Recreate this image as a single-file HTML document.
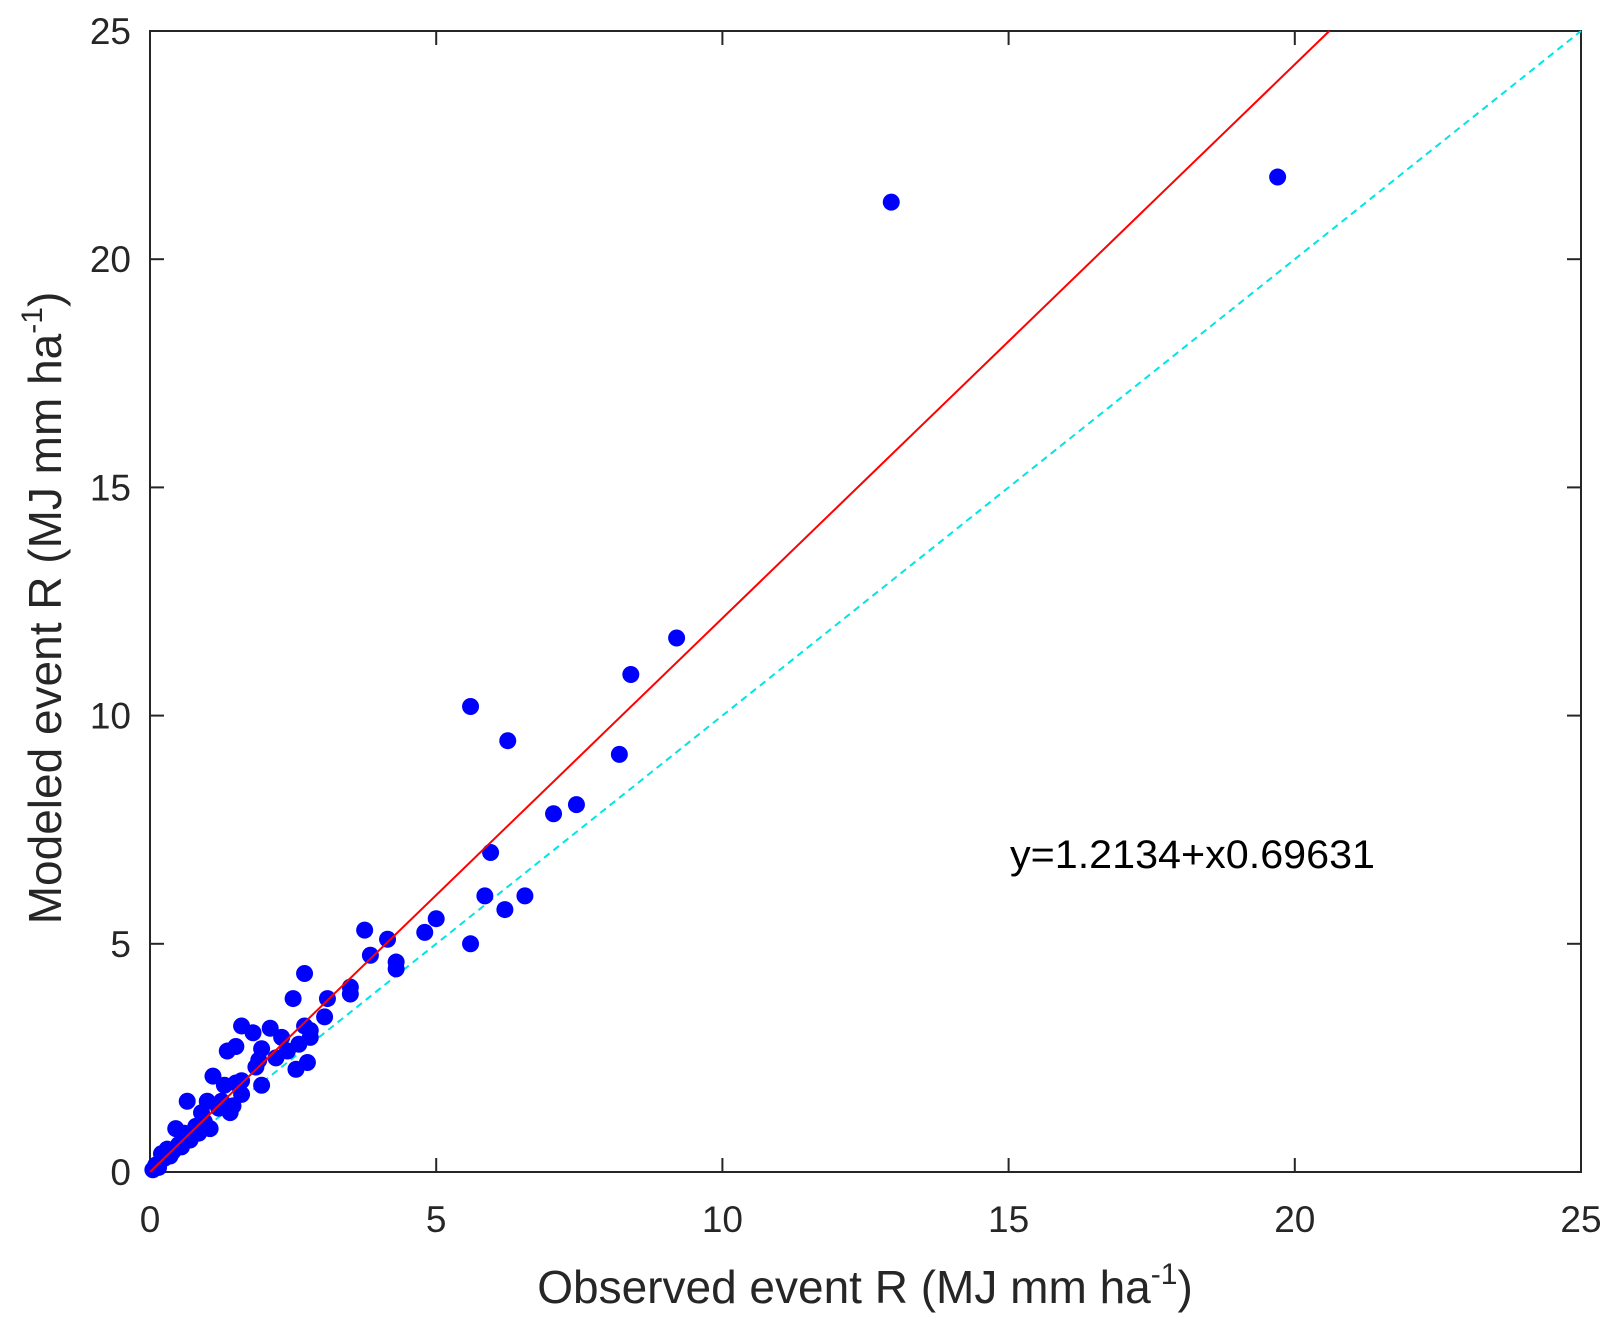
<!DOCTYPE html>
<html><head><meta charset="utf-8"><style>
html,body{margin:0;padding:0;background:#fff}
svg{display:block;font-family:"Liberation Sans",Arial,sans-serif}
</style></head><body>
<svg id="chart" width="1619" height="1331" viewBox="0 0 1619 1331" xmlns="http://www.w3.org/2000/svg">
<g id="plot"></g>
<text x="1010" y="868" font-size="40" fill="#000" textLength="365" lengthAdjust="spacingAndGlyphs">y=1.2134+x0.69631</text>
<text x="865" y="1303" font-size="46" fill="#262626" text-anchor="middle">Observed event R (MJ mm ha<tspan font-size="30" dy="-19">-1</tspan><tspan dy="19">)</tspan></text>
<text transform="translate(61,608) rotate(-90)" font-size="46" fill="#262626" text-anchor="middle">Modeled event R (MJ mm ha<tspan font-size="30" dy="-19">-1</tspan><tspan dy="19">)</tspan></text>
</svg>
<script>
const obsX = [19.7,12.95,9.2,8.4,5.6,6.25,8.2,7.45,7.05,5.95,5.85,6.55,6.2,5.0,4.8,5.6,3.75,4.15,3.85,4.3,4.3,3.5,3.5,2.7,2.5,3.1,3.05,1.6,1.8,2.1,2.3,2.7,2.8,2.8,2.6,2.4,2.2,1.5,1.35,1.95,1.9,2.55,2.75,1.85,1.6,1.95,1.1,1.3,1.5,1.6,1.4,0.65,1.0,1.2,0.9,1.05,0.85,0.45,0.6,0.7,0.5,0.3,0.2,0.25,0.1,0.05,0.15,0.35,0.4,0.8,1.25,1.45,0.95,0.55];
const modY = [21.8,21.25,11.7,10.9,10.2,9.45,9.15,8.05,7.85,7.0,6.05,6.05,5.75,5.55,5.25,5.0,5.3,5.1,4.75,4.6,4.45,4.05,3.9,4.35,3.8,3.8,3.4,3.2,3.05,3.15,2.95,3.2,3.1,2.95,2.8,2.65,2.5,2.75,2.65,2.7,2.45,2.25,2.4,2.3,2.0,1.9,2.1,1.9,1.95,1.7,1.3,1.55,1.55,1.4,1.3,0.95,0.85,0.95,0.85,0.7,0.6,0.5,0.4,0.3,0.15,0.05,0.1,0.35,0.45,1.0,1.55,1.45,1.1,0.55];
const xTicks = [0,5,10,15,20,25];
const yTicks = [0,5,10,15,20,25];
const fitSlope = [1.2134];
const L=150,R=1581,T=31,B=1172,MAX=25;
const sx=v=>L+(R-L)*v/MAX, sy=v=>B-(B-T)*v/MAX;
const NS="http://www.w3.org/2000/svg";
const g=document.getElementById('plot');
function mk(t,a){const e=document.createElementNS(NS,t);for(const k in a)e.setAttribute(k,a[k]);g.appendChild(e);return e;}
const frame=mk('rect',{x:L,y:T,width:R-L,height:B-T,fill:'none',stroke:'#262626','stroke-width':2});


xTicks.forEach(v=>{
  const t1=mk('line',{x1:sx(v),x2:sx(v),y1:B,y2:B-14,stroke:'#262626','stroke-width':2});
  
  
  const t2=mk('line',{x1:sx(v),x2:sx(v),y1:T,y2:T+14,stroke:'#262626','stroke-width':2});
  
  
  const l=mk('text',{x:sx(v),y:B+60,'font-size':37,fill:'#262626','text-anchor':'middle'});
  l.textContent=v;
  
  
});
yTicks.forEach(v=>{
  const t1=mk('line',{x1:L,x2:L+14,y1:sy(v),y2:sy(v),stroke:'#262626','stroke-width':2});
  
  
  const t2=mk('line',{x1:R,x2:R-14,y1:sy(v),y2:sy(v),stroke:'#262626','stroke-width':2});
  
  
  const l=mk('text',{x:L-19,y:sy(v)+13,'font-size':37,fill:'#262626','text-anchor':'end'});
  l.textContent=v;
  
  
});
const oneone=mk('line',{x1:sx(0),y1:sy(0),x2:sx(MAX),y2:sy(MAX),stroke:'#00e5e5','stroke-width':2,'stroke-dasharray':'7,5'});


const xEnd=MAX/fitSlope[0];
const fit=mk('line',{x1:sx(0),y1:sy(0),x2:sx(xEnd),y2:sy(MAX),stroke:'#ff0000','stroke-width':2});


obsX.forEach((x,i)=>{
  const c=mk('circle',{cx:sx(x),cy:sy(modY[i]),r:8.5,fill:'#0000ff'});
  
  
});
g.appendChild(fit);
</script>
</body></html>
